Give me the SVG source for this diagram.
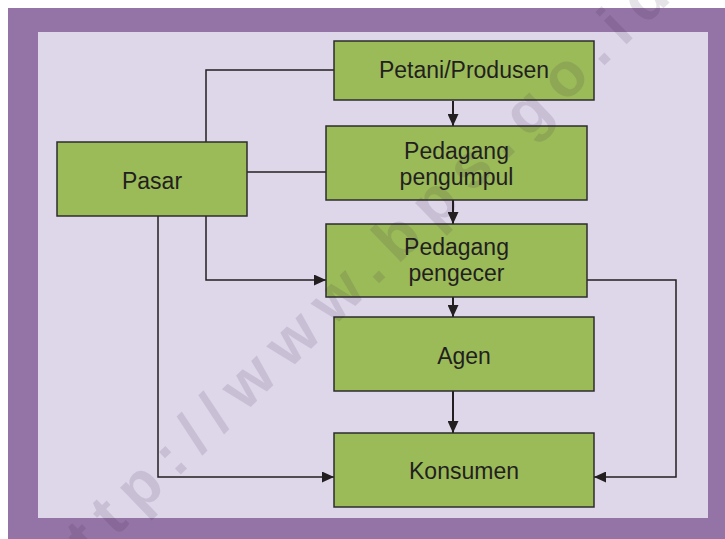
<svg xmlns="http://www.w3.org/2000/svg" width="725" height="539" viewBox="0 0 725 539">
  <defs>
    <style>
      .node rect { fill: #9bbb59; stroke: #2e2c2e; stroke-width: 1.5; }
      .node text { font-family: "Liberation Sans", Arial, sans-serif; font-size: 23px; fill: #231f20; text-anchor: middle; }
      .wire { fill: none; stroke: #231f20; stroke-width: 1.5; }
      .flow { fill: none; stroke: #231f20; stroke-width: 2; }
      .mark { font-family: "Liberation Sans", Arial, sans-serif; font-weight: bold; font-size: 62px; letter-spacing: 13.3px; fill: #2a1a3a; fill-opacity: 0.12; }
    </style>
    <marker id="head" markerUnits="userSpaceOnUse" markerWidth="12" markerHeight="11" refX="12" refY="5.5" orient="auto">
      <path d="M0,0 L12,5.5 L0,11 Z" fill="#231f20"/>
    </marker>
  </defs>

  <!-- frame -->
  <rect x="0" y="0" width="725" height="539" fill="#ffffff"/>
  <rect x="8" y="8" width="717" height="531" fill="#9474a6"/>
  <rect x="38" y="32" width="670" height="486" fill="#ded7ea"/>

  <!-- connectors -->
  <g id="connectors">
    <path class="wire" d="M206,142 V70 H334"/>
    <path class="wire" d="M247,172 H326"/>
    <path class="wire" d="M206,216 V280 H326" marker-end="url(#head)"/>
    <path class="wire" d="M158,216 V477 H334" marker-end="url(#head)"/>
    <path class="wire" d="M587,280 H676 V477 H594" marker-end="url(#head)"/>
    <path class="flow" d="M453,101 V126" marker-end="url(#head)"/>
    <path class="flow" d="M453,200 V224" marker-end="url(#head)"/>
    <path class="flow" d="M453,297 V317" marker-end="url(#head)"/>
    <path class="flow" d="M453,391 V433" marker-end="url(#head)"/>
  </g>

  <!-- nodes -->
  <g id="petani" class="node">
    <rect x="334" y="41" width="260" height="59"/>
    <text x="464" y="77.5">Petani/Produsen</text>
  </g>
  <g id="pengumpul" class="node">
    <rect x="326" y="126" width="261" height="74"/>
    <text x="456.5" y="158.5">Pedagang</text>
    <text x="456.5" y="185">pengumpul</text>
  </g>
  <g id="pengecer" class="node">
    <rect x="326" y="224" width="261" height="73"/>
    <text x="456.5" y="255">Pedagang</text>
    <text x="456.5" y="281">pengecer</text>
  </g>
  <g id="agen" class="node">
    <rect x="334" y="317" width="260" height="74"/>
    <text x="464" y="363.5">Agen</text>
  </g>
  <g id="konsumen" class="node">
    <rect x="334" y="433" width="260" height="74"/>
    <text x="464" y="478.5">Konsumen</text>
  </g>
  <g id="pasar" class="node">
    <rect x="57" y="142" width="190" height="74"/>
    <text x="152" y="188.5">Pasar</text>
  </g>

  <!-- diagonal site mark -->
  <text class="mark" transform="translate(54,597) rotate(-44)">http://www.bps.go.id</text>
</svg>
